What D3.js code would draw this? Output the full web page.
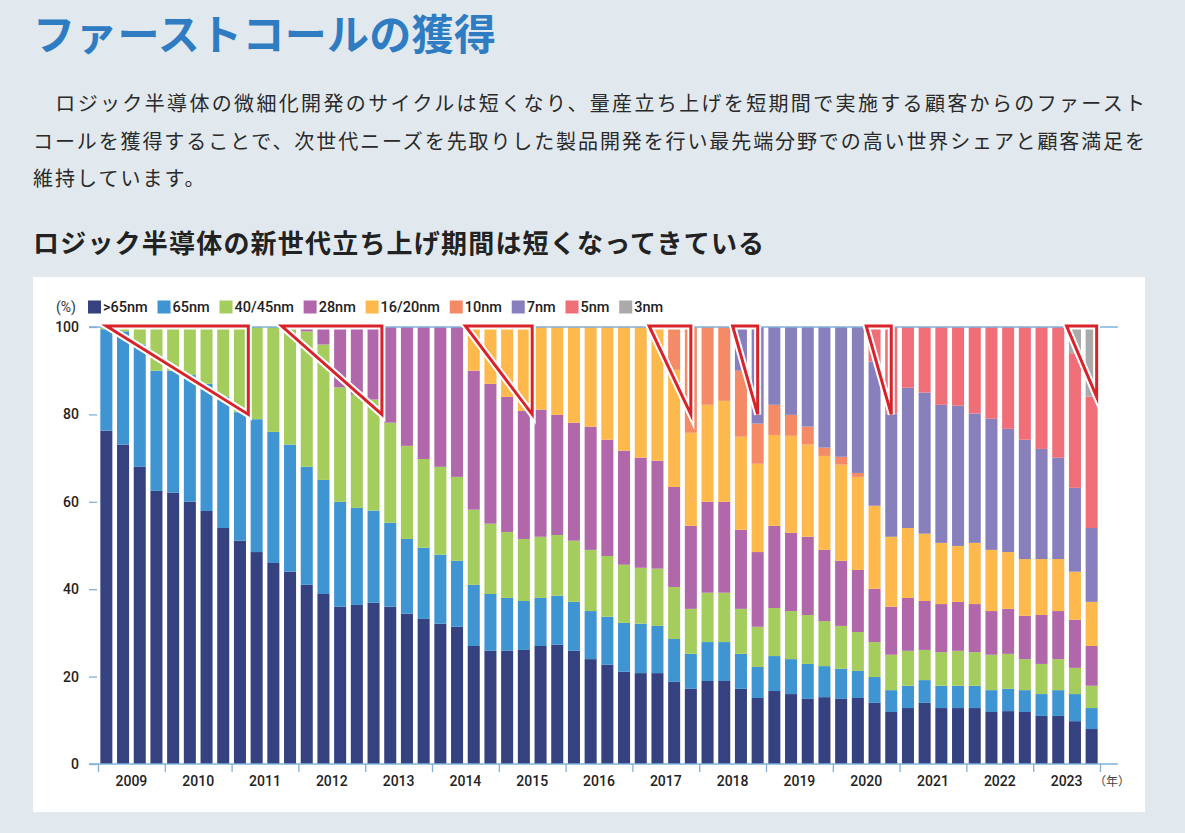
<!DOCTYPE html>
<html lang="ja">
<head>
<meta charset="utf-8">
<script src="https://cdn.jsdelivr.net/npm/d3@7"></script>
<style>
  html, body { margin: 0; padding: 0; background: #e1e9ef; }
  svg { display: block; }
</style>
</head>
<body>
<div id="canvas"></div>
<script>
// page texts
const title = "ファーストコールの獲得";
const paragraph = [
    "\u3000ロジック半導体の微細化開発のサイクルは短くなり、量産立ち上げを短期間で実施する顧客からのファースト",
    "コールを獲得することで、次世代ニーズを先取りした製品開発を行い最先端分野での高い世界シェアと顧客満足を",
    "維持しています。"
];
const subtitle = "ロジック半導体の新世代立ち上げ期間は短くなってきている";

// categories
const years = ["2009","2010","2011","2012","2013","2014","2015","2016","2017","2018","2019","2020","2021","2022","2023"];
const quarters = years.flatMap(y => ["Q1","Q2","Q3","Q4"].map(q => y + q));
const nodes = [">65nm","65nm","40/45nm","28nm","16/20nm","10nm","7nm","5nm","3nm"];
const yTicks = [0, 20, 40, 60, 80, 100];

// share per node (%), one value per quarter
const gt65 = [76.3,73.1,68.0,62.5,62.1,60.0,57.9,54.0,51.1,48.5,46.0,44.0,41.0,38.9,36.0,36.4,36.9,36.0,34.4,33.2,32.1,31.4,27.0,25.9,25.9,26.1,27.0,27.3,25.9,24.0,22.7,21.1,20.8,20.8,18.8,17.2,19.0,19.0,17.2,15.1,16.7,16.0,14.9,15.3,14.9,15.1,14.0,11.9,12.8,14.0,12.8,12.8,12.8,11.9,12.1,11.9,11.0,11.0,9.8,8.0];
const nm65 = [23.2,25.9,28.0,27.5,27.9,29.0,29.1,30.0,29.4,30.4,30.0,29.1,27.0,26.1,24.0,22.2,21.1,19.2,17.1,16.3,15.8,15.1,14.0,13.0,12.1,11.2,11.0,11.2,11.2,11.0,11.0,11.2,11.3,10.8,9.8,8.0,8.9,8.9,8.0,7.1,8.0,8.0,8.0,7.1,6.9,6.2,5.9,5.0,5.1,5.2,5.1,5.1,5.1,5.0,5.1,5.0,5.0,5.9,6.2,4.8];
const nm40 = [0.5,1.0,4.0,10.0,10.0,11.0,13.0,16.0,19.5,21.1,24.0,26.4,31.0,31.0,26.2,25.9,25.4,22.9,21.3,20.3,20.1,19.2,17.2,16.1,15.1,14.2,14.0,13.9,14.0,14.0,13.9,13.3,12.8,13.1,11.9,10.3,11.3,11.3,10.3,9.2,11.0,11.0,11.2,10.3,9.8,8.9,8.0,8.1,8.0,6.9,7.7,8.0,7.7,8.1,8.0,7.1,6.9,7.1,6.0,5.1];
const nm28 = [0,0,0,0,0,0,0,0,0,0,0,0.5,1.0,4.0,13.8,15.5,16.6,21.9,27.2,30.2,32.0,34.3,31.8,32.0,30.9,29.3,29.1,27.5,27.0,28.2,26.6,26.1,25.2,24.7,22.9,19.0,20.8,20.8,18.1,17.1,18.8,17.9,17.9,16.3,14.9,14.2,12.2,11.0,12.1,11.2,11.0,11.2,11.0,10.0,10.3,9.9,11.2,11.0,11.0,9.1];
const nm16 = [0,0,0,0,0,0,0,0,0,0,0,0,0,0,0,0,0,0,0,0,0,0,10.0,13.0,16.0,19.2,18.9,20.1,21.9,22.8,25.8,28.3,29.9,30.0,26.8,21.3,22.2,23.1,21.3,20.2,20.8,22.2,21.1,21.5,22.0,21.3,19.0,16.0,16.0,15.4,14.0,12.8,14.0,14.0,13.0,13.0,12.8,11.9,11.0,10.1];
const nm10 = [0,0,0,0,0,0,0,0,0,0,0,0,0,0,0,0,0,0,0,0,0,0,0,0,0,0,0,0,0,0,0,0,0,0.6,9.8,24.2,17.8,16.9,15.1,9.2,6.9,4.8,4.1,1.9,1.8,0.9,0,0,0,0,0,0,0,0,0,0,0,0,0,0];
const nm7  = [0,0,0,0,0,0,0,0,0,0,0,0,0,0,0,0,0,0,0,0,0,0,0,0,0,0,0,0,0,0,0,0,0,0,0,0,0,0,10.0,22.1,17.8,20.1,22.8,27.6,29.7,33.4,33.0,28.2,32.1,32.3,31.6,32.1,29.6,30.0,28.2,27.3,25.2,23.2,19.2,16.9];
const nm5  = [0,0,0,0,0,0,0,0,0,0,0,0,0,0,0,0,0,0,0,0,0,0,0,0,0,0,0,0,0,0,0,0,0,0,0,0,0,0,0,0,0,0,0,0,0,0,7.9,19.8,13.9,15.0,17.8,18.0,19.8,21.0,23.3,25.8,27.9,29.9,30.8,30.1];
const nm3  = [0,0,0,0,0,0,0,0,0,0,0,0,0,0,0,0,0,0,0,0,0,0,0,0,0,0,0,0,0,0,0,0,0,0,0,0,0,0,0,0,0,0,0,0,0,0,0,0,0,0,0,0,0,0,0,0,0,0,6.0,15.9];

// red triangles: from / to in quarter units, low end in %
const callouts = [
    {from: 0.5, to: 9,    low: 80},
    {from: 11,  to: 17,   low: 80},
    {from: 22,  to: 26,   low: 80},
    {from: 33,  to: 35.5, low: 80},
    {from: 38,  to: 39.5, low: 80},
    {from: 46,  to: 47.5, low: 80},
    {from: 58,  to: 59.8, low: 84}
];

const series = [gt65, nm65, nm40, nm28, nm16, nm10, nm7, nm5, nm3];
const rows = quarters.map((q, i) => {
    const r = {quarter: q};
    nodes.forEach((n, k) => r[n] = series[k][i]);
    return r;
});

const palette = ["#36417f","#3f94d2","#a5cd5e","#b168ab","#fdb94b","#f48a66","#8780bd","#f06e78","#aaaaaa"];
const color = d3.scaleOrdinal().domain(nodes).range(palette);

const width = 1185, height = 833;
const jp = "'Noto Sans CJK JP', sans-serif";
const num = "Roboto, 'DejaVu Sans', sans-serif";
const axisBlue = "#7fb0db";

const svg = d3.select("#canvas")
    .append("svg")
    .attr("width", width)
    .attr("height", height)
    .style("background-color", "#e1e9ef");

// heading + text
svg.append("text")
    .attr("x", 33).attr("y", 50)
    .attr("font-family", jp).attr("font-weight", 700).attr("font-size", 42)
    .attr("letter-spacing", 0.3)
    .attr("fill", "#2f7cc2")
    .text(title);

svg.append("g")
    .selectAll("text")
    .data(paragraph)
    .join("text")
        .attr("x", 33)
        .attr("y", (d, i) => 111 + i * 37.5)
        .attr("font-family", jp).attr("font-size", 20)
        .attr("fill", "#2a2a2a")
        .each(function(d, i) {
            if (i < 2) d3.select(this).attr("textLength", 1112).attr("lengthAdjust", "spacing");
            else d3.select(this).attr("letter-spacing", 2);
        })
        .text(d => d);

svg.append("text")
    .attr("x", 33).attr("y", 253)
    .attr("font-family", jp).attr("font-weight", 700).attr("font-size", 26)
    .attr("letter-spacing", 1.2)
    .attr("fill", "#222")
    .text(subtitle);

// white panel
svg.append("rect")
    .attr("x", 33).attr("y", 277)
    .attr("width", 1112).attr("height", 535)
    .attr("fill", "#fff");

// scales
const x = d3.scaleBand()
    .domain(quarters)
    .range([98, 1100])
    .paddingInner(0.28)
    .paddingOuter(0.14);
const xq = d3.scaleLinear().domain([0, quarters.length]).range([98, 1100]);
const xYear = d3.scaleBand().domain(years).range([98, 1100]);
const y = d3.scaleLinear().domain([0, 100]).range([764, 327]);

const stacked = d3.stack().keys(nodes)(rows);

// bars
svg.append("g")
    .selectAll("g")
    .data(stacked)
    .join("g")
        .attr("fill", d => color(d.key))
    .selectAll("rect")
    .data(d => d)
    .join("rect")
        .attr("x", d => x(d.data.quarter))
        .attr("y", d => y(d[1]))
        .attr("width", x.bandwidth())
        .attr("height", d => Math.max(0, y(d[0]) - y(d[1])));

// base and 100% lines
svg.append("g")
    .selectAll("line")
    .data([0, 100])
    .join("line")
        .attr("x1", 89).attr("x2", 1118)
        .attr("y1", d => y(d)).attr("y2", d => y(d))
        .attr("stroke", axisBlue).attr("stroke-width", 1.3);

// y axis
svg.append("g")
    .attr("transform", "translate(97,0)")
    .call(d3.axisLeft(y).tickValues(yTicks).tickSize(8).tickPadding(10))
    .call(g => g.select(".domain").remove())
    .call(g => g.selectAll(".tick line").attr("stroke", axisBlue).attr("stroke-width", 1.3))
    .call(g => g.selectAll(".tick text")
        .attr("font-family", num).attr("font-weight", 500).attr("font-size", 14).attr("fill", "#222"));

// x axis: year boundaries + year labels
svg.append("g")
    .attr("transform", `translate(0,${y(0)})`)
    .call(d3.axisBottom(xq).tickValues(d3.range(0, quarters.length + 1, 4)).tickFormat("").tickSize(8))
    .call(g => g.select(".domain").remove())
    .call(g => g.selectAll(".tick line").attr("stroke", axisBlue).attr("stroke-width", 1.3));

svg.append("g")
    .attr("transform", `translate(0,${y(0)})`)
    .call(d3.axisBottom(xYear).tickSize(0).tickPadding(12.5))
    .call(g => g.select(".domain").remove())
    .call(g => g.selectAll(".tick text")
        .attr("font-family", num).attr("font-weight", 500).attr("font-size", 14).attr("fill", "#222"));

svg.append("text")
    .attr("x", 1094).attr("y", 786)
    .attr("font-family", jp).attr("font-size", 12)
    .attr("fill", "#444")
    .text("（年）");

// legend
svg.append("text")
    .attr("x", 56).attr("y", 312)
    .attr("font-family", num).attr("font-size", 14)
    .attr("fill", "#333")
    .text("(%)");

const legend = svg.append("g").attr("transform", "translate(88,0)");
let lx = 0;
nodes.forEach(n => {
    const item = legend.append("g").attr("transform", `translate(${lx},0)`);
    item.append("rect")
        .attr("x", 0).attr("y", 300.5)
        .attr("width", 13).attr("height", 13)
        .attr("fill", color(n));
    const t = item.append("text")
        .attr("x", 15).attr("y", 312)
        .attr("font-family", num).attr("font-weight", 500).attr("font-size", 14.5)
        .attr("fill", "#222")
        .text(n);
    lx += 15 + t.node().getComputedTextLength() + 9.8;
});

// red triangles
const tri = d => {
    const p = d3.path();
    p.moveTo(xq(d.from), y(100) - 1);
    p.lineTo(xq(d.to), y(100) - 1);
    p.lineTo(xq(d.to), y(d.low));
    p.closePath();
    return p.toString();
};
const callG = svg.append("g").attr("fill", "none").attr("stroke-linejoin", "miter").attr("stroke-miterlimit", 6);
callG.selectAll("path.halo")
    .data(callouts)
    .join("path")
        .attr("class", "halo")
        .attr("d", tri)
        .attr("stroke", "#fff").attr("stroke-width", 7);
callG.selectAll("path.edge")
    .data(callouts)
    .join("path")
        .attr("class", "edge")
        .attr("d", tri)
        .attr("stroke", "#d8232a").attr("stroke-width", 3);
</script>
</body>
</html>
